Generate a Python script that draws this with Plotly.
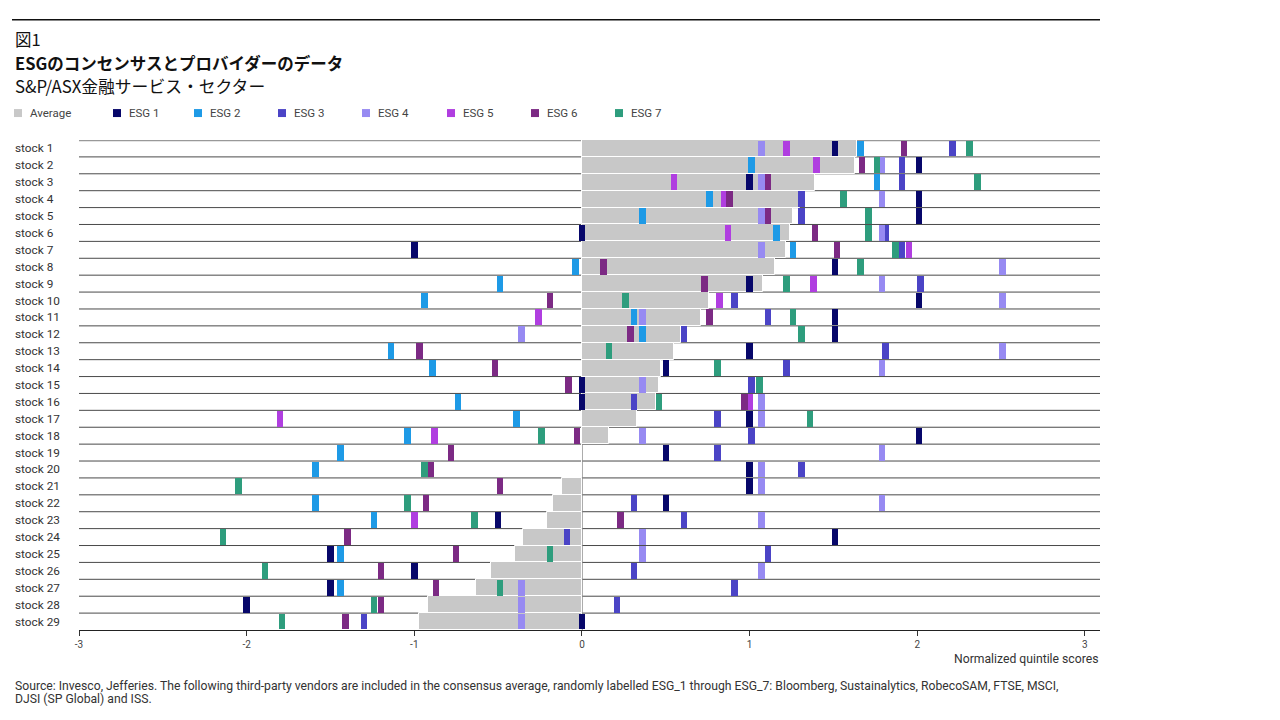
import plotly.graph_objects as go

stocks = [f"stock {i}" for i in range(1, 30)]

average = [1.64, 1.63, 1.39, 1.30, 1.26, 1.24, 1.22, 1.15, 1.08, 0.76,
           0.71, 0.59, 0.55, 0.47, 0.46, 0.44, 0.33, 0.16, 0.00, 0.00,
           -0.12, -0.17, -0.21, -0.35, -0.40, -0.54, -0.63, -0.92, -0.97]
esg1 = [1.51, 2.01, 1.00, 2.01, 2.01, 0.00, -1.00, 1.51, 1.00, 2.01,
        1.51, 1.51, 1.00, 0.50, 0.00, 0.00, 1.00, 2.01, 0.50, 1.00,
        1.00, 0.50, -0.50, 1.51, -1.50, -1.00, -1.50, -2.00, 0.00]
esg2 = [1.66, 1.01, 1.76, 0.76, 0.36, 1.16, 1.26, -0.04, -0.49, -0.94,
        0.31, 0.36, -1.14, -0.89, None, -0.74, -0.39, -1.04, -1.44, -1.59,
        None, -1.59, -1.24, None, -1.44, None, -1.44, None, None]
esg3 = [2.21, 1.91, 1.91, 1.31, 1.31, 1.81, 1.91, None, 2.02, 0.91,
        1.11, 0.61, 1.81, 1.22, 1.01, 0.31, 0.81, 1.01, 0.81, 1.31,
        None, 0.31, 0.61, -0.09, 1.11, 0.31, 0.91, 0.21, -1.30]
esg4 = [1.07, 1.79, 1.07, 1.79, 1.07, 1.79, 1.07, 2.51, 1.79, 2.51,
        0.36, -0.36, 2.51, 1.79, 0.36, 1.07, 1.07, 0.36, 1.79, 1.07,
        1.07, 1.79, 1.07, 0.36, 0.36, 1.07, -0.36, -0.36, -0.36]
esg5 = [1.22, 1.40, 0.55, 0.85, None, 0.87, 1.95, None, 1.38, 0.82,
        -0.26, None, None, None, None, 1.00, -1.80, -0.88, None, None,
        None, None, -1.00, None, None, None, None, None, None]
esg6 = [1.92, 1.67, 1.11, 0.88, 1.11, 1.39, 1.52, 0.13, 0.73, -0.19,
        0.76, 0.29, -0.97, -0.52, -0.08, 0.97, None, -0.03, -0.78, -0.90,
        -0.49, -0.93, 0.23, -1.40, -0.75, -1.20, -0.87, -1.20, -1.41]
esg7 = [2.31, 1.76, 2.36, 1.56, 1.71, 1.71, 1.87, 1.66, 1.22, 0.26,
        1.26, 1.31, 0.16, 0.81, 1.06, 0.46, 1.36, -0.24, None, -0.94,
        -2.05, -1.04, -0.64, -2.14, -0.19, -1.89, -0.49, -1.24, -1.79]

series_names = ["ESG 1", "ESG 2", "ESG 3", "ESG 4", "ESG 5", "ESG 6", "ESG 7"]
series_values = [esg1, esg2, esg3, esg4, esg5, esg6, esg7]
series_colors = ["#07076a", "#1e9ae6", "#4b44c6", "#978af2", "#b03ee0", "#7c2a84", "#2e9d7d"]
avg_color = "#c8c8c8"

x_ticks = [-3, -2, -1, 0, 1, 2, 3]

# page offset (default body margin) and plot area in screen pixels
OFF = 8
W, H = 1264, 704
L, R, T, B = 79, 1100, 139.5, 630.5


def px(xp):
    return (xp - L) / (R - L)


def py(yp):
    return (B - yp) / (B - T)


idx = list(range(len(stocks)))
mark_w = 0.039

fig = go.Figure()
fig.add_trace(go.Bar(
    x=average, y=idx, base=0, orientation="h", width=1.0,
    marker=dict(color=avg_color, line=dict(color="white", width=1)),
    name="Average", showlegend=False,
))
for name, vals, col in zip(series_names, series_values, series_colors):
    ys = [i for i, v in zip(idx, vals) if v is not None]
    bs = [v - mark_w / 2 for v in vals if v is not None]
    fig.add_trace(go.Bar(
        x=[mark_w] * len(ys), y=ys, base=bs, orientation="h", width=0.94,
        marker=dict(color=col, line=dict(width=0)),
        name=name, showlegend=False,
    ))

shapes = []
for k in range(len(stocks)):
    yv = k - 0.5
    if k == 0:
        shapes.append(dict(type="line", xref="x", yref="y", x0=-3, x1=3.09, y0=yv, y1=yv,
                           line=dict(color="#999999", width=2.5), layer="below"))
    else:
        shapes.append(dict(type="line", xref="x", yref="y", x0=-3, x1=3.09, y0=yv, y1=yv,
                           line=dict(color="#4a4a4a", width=1), layer="below"))
shapes.append(dict(type="line", xref="x", yref="y", x0=0, x1=0, y0=-0.55, y1=len(stocks) - 0.5,
                   line=dict(color="#8a8a8a", width=1.5), layer="below"))
shapes.append(dict(type="line", xref="paper", yref="paper", x0=px(12), x1=px(1100), y0=py(19), y1=py(19),
                   line=dict(color="#111111", width=1.5)))

annotations = []
annotations.append(dict(text="図1", x=px(13), y=py(38), xref="paper", yref="paper", xanchor="left",
                        yanchor="middle", showarrow=False,
                        font=dict(family="Noto Sans CJK JP", size=16.5, color="#111111")))
annotations.append(dict(text="<b>ESGのコンセンサスとプロバイダーのデータ</b>", x=px(13), y=py(62),
                        xref="paper", yref="paper", xanchor="left", yanchor="middle", showarrow=False,
                        font=dict(family="Noto Sans CJK JP", size=16.5, color="#111111")))
annotations.append(dict(text="S&P/ASX金融サービス・セクター", x=px(13), y=py(85),
                        xref="paper", yref="paper", xanchor="left", yanchor="middle", showarrow=False,
                        font=dict(family="Noto Sans CJK JP", size=16.8, color="#111111")))

legend_items = [("Average", avg_color, 14)] + [
    (n, c, xp) for n, c, xp in zip(series_names, series_colors, [113, 194, 278, 362, 447, 531, 615])]
for name, col, xp in legend_items:
    shapes.append(dict(type="rect", xref="paper", yref="paper", x0=px(xp), x1=px(xp + 8),
                       y0=py(116.5), y1=py(108.5), fillcolor=col, line=dict(width=0)))
    annotations.append(dict(text=name, x=px(xp + 14), y=py(112.5), xref="paper", yref="paper",
                            xanchor="left", yanchor="middle", showarrow=False,
                            font=dict(family="Roboto", size=11.5, color="#444444")))

for i, s in enumerate(stocks):
    annotations.append(dict(text=s, x=px(13), y=i, xref="paper", yref="y", xanchor="left",
                            yanchor="middle", showarrow=False,
                            font=dict(family="Roboto", size=11.8, color="#333333")))

annotations.append(dict(text="Normalized quintile scores", x=1, y=py(660), xref="paper", yref="paper",
                        xanchor="right", yanchor="middle", showarrow=False,
                        font=dict(family="Roboto", size=12.2, color="#333333")))
source_lines = [
    "Source: Invesco, Jefferies. The following third-party vendors are included in the consensus average, "
    "randomly labelled ESG_1 through ESG_7: Bloomberg, Sustainalytics, RobecoSAM, FTSE, MSCI,",
    "DJSI (SP Global) and ISS.",
]
for line, yp in zip(source_lines, [687, 700]):
    annotations.append(dict(text=line, x=px(13), y=py(yp), xref="paper", yref="paper", xanchor="left",
                            yanchor="middle", align="left", showarrow=False,
                            font=dict(family="Roboto", size=12.2, color="#333333")))

fig.update_layout(
    width=W, height=H,
    margin=dict(l=L - OFF, r=W - (R - OFF), t=T - OFF, b=H - (B - OFF), pad=0),
    paper_bgcolor="white", plot_bgcolor="white",
    barmode="overlay", bargap=0,
    showlegend=False,
    shapes=shapes, annotations=annotations,
    hovermode=False,
    font=dict(family="Roboto", color="#333333"),
)
fig.update_xaxes(range=[-3, 3.09], tickvals=x_ticks, ticktext=[str(t) for t in x_ticks],
                 showgrid=False, zeroline=False, showline=True, linecolor="#222222", linewidth=1,
                 ticks="outside", ticklen=5, tickcolor="#333333", tickwidth=1,
                 tickfont=dict(family="Roboto", size=10, color="#444444"), fixedrange=True)
fig.update_yaxes(range=[len(stocks) - 0.5, -0.5], showticklabels=False, showgrid=False,
                 zeroline=False, showline=False, ticks="", fixedrange=True)

fig.write_html("out.html", config={"displayModeBar": False})
